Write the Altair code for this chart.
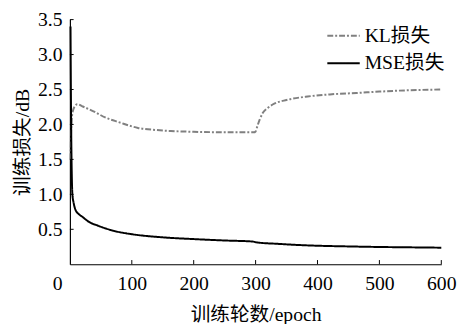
import altair as alt
import pandas as pd

kl_epoch = [1, 2, 3, 5, 8, 12, 20, 40, 57, 80, 110, 140, 163, 200, 268, 297, 300, 303, 307, 312, 320, 331, 350, 384, 420, 463, 500, 550, 600]
kl_loss = [1.5, 1.9, 2.08, 2.2, 2.26, 2.29, 2.26, 2.18, 2.1, 2.03, 1.95, 1.92, 1.906, 1.895, 1.887, 1.887, 1.9, 1.98, 2.08, 2.17, 2.24, 2.3, 2.35, 2.4, 2.43, 2.45, 2.47, 2.49, 2.5]

mse_epoch = [1, 2, 3, 4, 6, 9, 14, 20, 30, 46, 70, 100, 150, 200, 250, 295, 300, 310, 330, 370, 400, 450, 500, 550, 600]
mse_loss = [3.4, 2.0, 1.3, 1.0, 0.88, 0.78, 0.72, 0.68, 0.61, 0.55, 0.48, 0.43, 0.385, 0.36, 0.34, 0.325, 0.316, 0.305, 0.295, 0.275, 0.265, 0.255, 0.247, 0.242, 0.237]

series_names = ["KL损失", "MSE损失"]
x_ticks = [100, 200, 300, 400, 500, 600]
y_ticks = [0.5, 1.0, 1.5, 2.0, 2.5, 3.0, 3.5]

FONT = "'Liberation Serif', 'Times New Roman', 'Noto Sans CJK SC', serif"

df = pd.concat([
    pd.DataFrame({"epoch": kl_epoch, "loss": kl_loss, "series": series_names[0]}),
    pd.DataFrame({"epoch": mse_epoch, "loss": mse_loss, "series": series_names[1]}),
])

xs = alt.Scale(domain=[0, 600], nice=False)
ys = alt.Scale(domain=[0, 3.5], nice=False)

lines = alt.Chart(df).mark_line(strokeWidth=2, interpolate="monotone").encode(
    x=alt.X("epoch:Q", scale=xs, title="训练轮数/epoch",
            axis=alt.Axis(values=[0] + x_ticks, ticks=False, labelPadding=10,
                          labelAlign=alt.condition("datum.value === 0", alt.value("right"), alt.value("center")),
                          labelOffset=alt.condition("datum.value === 0", alt.value(-8), alt.value(0)),
                          titlePadding=11)),
    y=alt.Y("loss:Q", scale=ys, title="训练损失/dB",
            axis=alt.Axis(values=y_ticks, ticks=False, labelPadding=8, format=".1f",
                          titlePadding=5)),
    color=alt.Color("series:N",
                    scale=alt.Scale(domain=series_names, range=["#808080", "#000000"]),
                    legend=alt.Legend(title=None, orient="none", legendX=261, legendY=-1,
                                      symbolType="stroke", symbolSize=1089,
                                      symbolStrokeWidth=2, labelFontSize=20,
                                      labelFont=FONT, labelColor="#000",
                                      rowPadding=-12, labelOffset=4)),
    strokeDash=alt.StrokeDash("series:N",
                              scale=alt.Scale(domain=series_names, range=[[6, 2, 2, 2], [1, 0]]),
                              legend=None),
)

xt = alt.Chart(pd.DataFrame({"t": x_ticks})).mark_rule(color="black", strokeWidth=1).encode(
    x="t:Q", y=alt.datum(0, scale=ys), y2=alt.datum(0.06)
)
yt = alt.Chart(pd.DataFrame({"t": y_ticks})).mark_rule(color="black", strokeWidth=1).encode(
    y="t:Q", x=alt.datum(0, scale=xs), x2=alt.datum(6)
)

chart = alt.layer(lines, xt, yt).properties(
    width=378, height=249,
    autosize=alt.AutoSizeParams(type="none"),
    padding={"left": 63, "top": 9, "right": 17, "bottom": 58},
).configure_view(stroke=None).configure_axis(
    grid=False, domainColor="black", domainWidth=1.2,
    labelFont=FONT, labelFontSize=20, labelColor="black",
    titleFont=FONT, titleFontSize=20, titleColor="black", titleFontWeight="normal",
)

chart.save("out.html", embed_options={"renderer": "svg", "actions": False})
